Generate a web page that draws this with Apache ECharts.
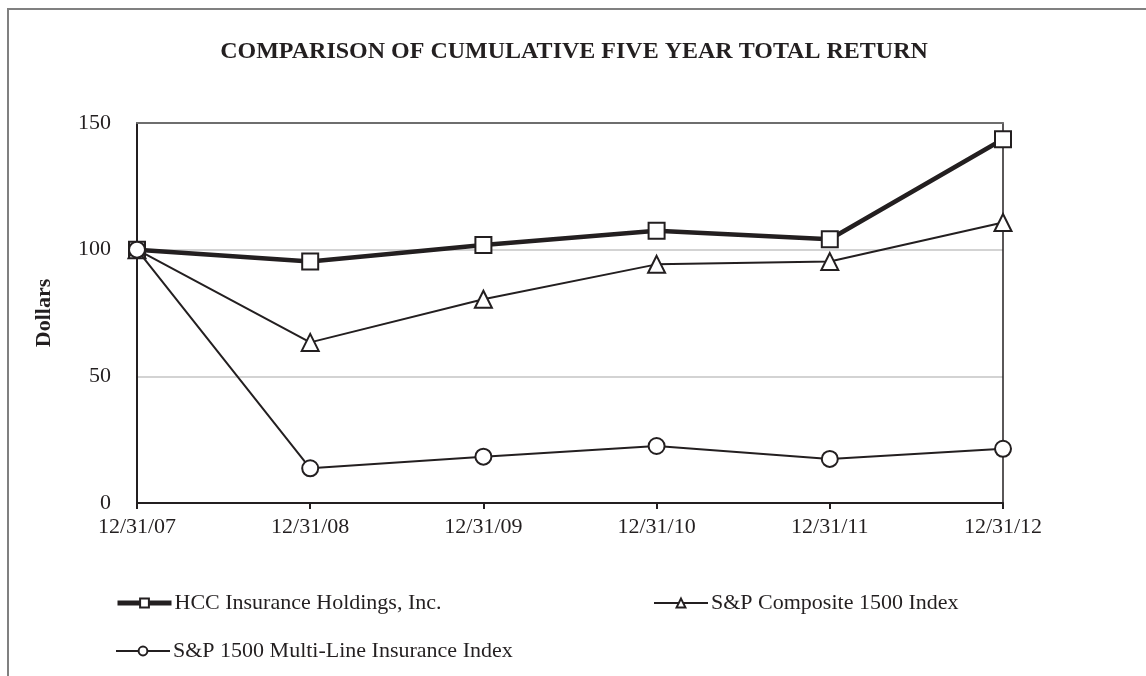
<!DOCTYPE html>
<html>
<head>
<meta charset="utf-8">
<script src="https://cdn.jsdelivr.net/npm/echarts@6/dist/echarts.min.js"></script>
<style>
  html, body { margin: 0; padding: 0; background: #fff; }
  #main { width: 1146px; height: 676px; }
</style>
</head>
<body>
<div id="main"></div>
<script>
// x categories
var years = ["12/31/07", "12/31/08", "12/31/09", "12/31/10", "12/31/11", "12/31/12"];
// series values (dollars)
var hcc = [100, 95.3, 101.8, 107.5, 104.1, 143.6];
var composite = [100, 63.4, 80.4, 94.2, 95.3, 110.7];
var multiLine = [100, 13.7, 18.3, 22.5, 17.4, 21.4];
var names = ["HCC Insurance Holdings, Inc.", "S&P Composite 1500 Index", "S&P 1500 Multi-Line Insurance Index"];

var ink = "#231f20";
var serif = "Liberation Serif";

var chart = echarts.init(document.getElementById("main"));

function legendAt(name, left, top, lineWidth) {
  return {
    data: [name],
    left: left,
    top: top,
    orient: "horizontal",
    itemWidth: 54,
    itemHeight: 11,
    itemGap: 0,
    padding: 0,
    lineStyle: { width: lineWidth, color: ink },
    textStyle: { fontFamily: serif, fontSize: 22, color: ink, padding: [0, 0, 0, -2] },
    selectedMode: false
  };
}

var option = {
  animation: false,
  backgroundColor: "#fff",
  title: {
    text: "COMPARISON OF CUMULATIVE FIVE YEAR TOTAL RETURN",
    left: 569,
    top: 35,
    textAlign: "center",
    textStyle: { fontFamily: serif, fontSize: 24, fontWeight: "bold", color: ink }
  },
  legend: [
    legendAt(names[0], 115, 592, 5),
    legendAt(names[1], 653, 592, 2),
    legendAt(names[2], 115, 640, 2)
  ],
  graphic: [{
    type: "polyline",
    shape: { points: [[8, 676], [8, 9], [1146, 9]] },
    style: { stroke: "#808080", lineWidth: 2, fill: null },
    silent: true
  }],
  grid: { left: 137, right: 143, top: 123, bottom: 173 },
  xAxis: [{
    type: "category",
    data: years,
    boundaryGap: false,
    axisLine: { lineStyle: { color: ink, width: 2 } },
    axisTick: { show: true, length: 6, inside: false, lineStyle: { color: ink, width: 2 } },
    axisLabel: { fontFamily: serif, fontSize: 22, color: ink, margin: 13 },
    splitLine: { show: false },
    z: 5
  }, {
    type: "category",
    data: years,
    boundaryGap: false,
    position: "top",
    axisLine: { show: true, onZero: false, lineStyle: { color: "#6e6e6e", width: 2 } },
    axisTick: { show: false },
    axisLabel: { show: false },
    splitLine: { show: false },
    z: 5
  }],
  yAxis: [{
    type: "value",
    min: 0,
    max: 150,
    interval: 50,
    name: "Dollars",
    nameLocation: "middle",
    nameRotate: 90,
    nameGap: 82,
    nameTextStyle: { fontFamily: serif, fontSize: 22, fontWeight: "bold", color: ink },
    axisLine: { show: true, lineStyle: { color: ink, width: 2 } },
    axisTick: { show: false },
    axisLabel: { fontFamily: serif, fontSize: 22, color: ink, margin: 26 },
    splitLine: { show: true, showMinLine: false, showMaxLine: false, lineStyle: { color: "#c4c4c4", width: 1.5 } },
    z: 4
  }, {
    type: "value",
    min: 0,
    max: 150,
    interval: 50,
    position: "right",
    axisLine: { show: true, onZero: false, lineStyle: { color: ink, width: 1.5 } },
    axisTick: { show: false },
    axisLabel: { show: false },
    splitLine: { show: false },
    z: 5
  }],
  series: [{
    name: names[0],
    type: "line",
    data: hcc,
    symbol: "rect",
    symbolSize: 16,
    showAllSymbol: true,
    lineStyle: { color: ink, width: 4.5 },
    itemStyle: { color: "#fff", borderColor: ink, borderWidth: 2 },
    z: 6
  }, {
    name: names[1],
    type: "line",
    data: composite,
    symbol: "triangle",
    symbolSize: 17,
    showAllSymbol: true,
    lineStyle: { color: ink, width: 2 },
    itemStyle: { color: "#fff", borderColor: ink, borderWidth: 2 },
    z: 7
  }, {
    name: names[2],
    type: "line",
    data: multiLine,
    symbol: "circle",
    symbolSize: 16,
    showAllSymbol: true,
    lineStyle: { color: ink, width: 2 },
    itemStyle: { color: "#fff", borderColor: ink, borderWidth: 2 },
    z: 8
  }]
};

chart.setOption(option);
</script>
</body>
</html>
